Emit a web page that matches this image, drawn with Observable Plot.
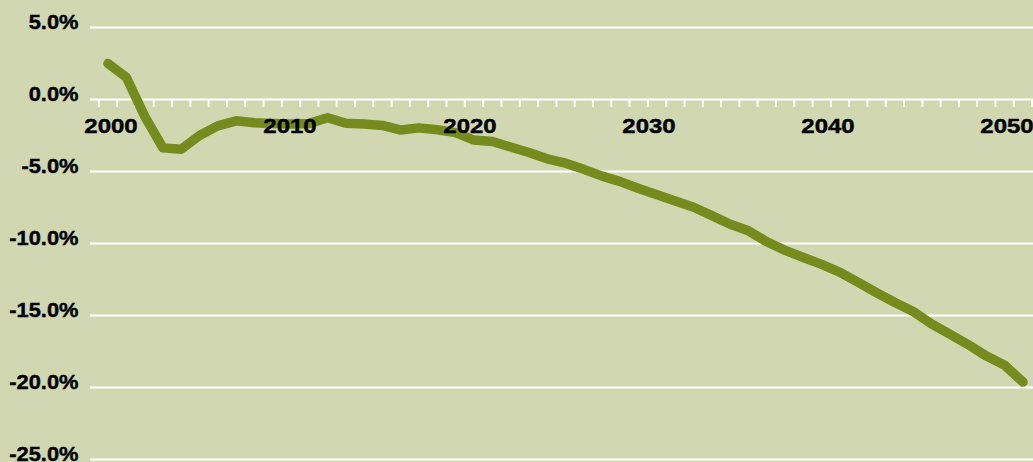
<!DOCTYPE html>
<html><head><meta charset="utf-8">
<script src="https://cdn.jsdelivr.net/npm/d3@7"></script>
<script src="https://cdn.jsdelivr.net/npm/@observablehq/plot@0.6"></script>
<style>
html,body{margin:0;padding:0;background:#d1d8b1;overflow:hidden;}
#chart svg{display:block;}
#chart svg text{stroke:#000;stroke-width:0.45px;}
</style></head><body><div id="chart"></div>
<script>
const years = [2000,2001,2002,2003,2004,2005,2006,2007,2008,2009,
  2010,2011,2012,2013,2014,2015,2016,2017,2018,2019,
  2020,2021,2022,2023,2024,2025,2026,2027,2028,2029,
  2030,2031,2032,2033,2034,2035,2036,2037,2038,2039,
  2040,2041,2042,2043,2044,2045,2046,2047,2048,2049,2050];
const change = [2.5,1.55,-1.15,-3.36,-3.45,-2.5,-1.83,-1.48,-1.62,-1.67,
  -1.7,-1.66,-1.27,-1.65,-1.7,-1.8,-2.12,-1.97,-2.1,-2.3,
  -2.82,-2.92,-3.3,-3.68,-4.12,-4.42,-4.85,-5.32,-5.7,-6.18,
  -6.62,-7.05,-7.48,-8.06,-8.66,-9.12,-9.88,-10.48,-10.97,-11.45,
  -12.0,-12.7,-13.42,-14.1,-14.72,-15.58,-16.3,-17.02,-17.82,-18.45,-19.62];
const yTicks = [5,0,-5,-10,-15,-20,-25];
const xLabelYears = [2000,2010,2020,2030,2040,2050];
const xLabelNudge = [3,-1,-4,-8,-12,-16];

const data = years.map((year, i) => ({year, value: change[i]}));
const tickBounds = years.map(y => y - 0.5).concat([years[years.length-1] + 0.5]);

const FONT = "'Liberation Sans', Arial, sans-serif";
const chart = Plot.plot({
  width: 1033, height: 462,
  marginLeft: 90, marginRight: 0, marginTop: 27, marginBottom: 3,
  x: {domain: [1999.044, 2050.574], axis: null},
  y: {domain: [-25, 5], label: null},
  style: {background: "#d1d8b1", color: "#000", fontFamily: FONT, fontSize: "21px", fontWeight: "bold"},
  marks: [
    Plot.ruleY(yTicks, {stroke: "white", strokeWidth: 2.2, strokeOpacity: 1}),
    Plot.ruleX(tickBounds, {x: d => d, y1: () => 0, y2: () => -0.55, stroke: "white", strokeWidth: 2}),
    Plot.line(data, {x: "year", y: "value", stroke: "#768b1e", strokeWidth: 9.5, strokeLinejoin: "round", strokeLinecap: "round"}),
    Plot.axisY({ticks: yTicks, label: null, tickSize: 0, tickPadding: 12, tickFormat: d => d.toFixed(1) + "%", dy: -5, fontSize: 21, fontWeight: "bold", fill: "black"}),
    ...xLabelYears.map((yr, i) => Plot.text([yr], {x: d => d, y: () => 0, text: d => String(d), dy: 26.5, dx: xLabelNudge[i], fontSize: 21, fontWeight: "bold", fill: "black"}))
  ]
});
document.getElementById("chart").appendChild(chart);
// widen glyphs horizontally, keeping each label's anchor point
chart.querySelectorAll("text").forEach(t => {
  const s = t.textContent.endsWith("%") ? 1.04 : 1.14;
  const len = t.getComputedTextLength();
  if (len > 0) {
    t.setAttribute("textLength", (len * s).toFixed(1));
    t.setAttribute("lengthAdjust", "spacingAndGlyphs");
  }
});
</script></body></html>
